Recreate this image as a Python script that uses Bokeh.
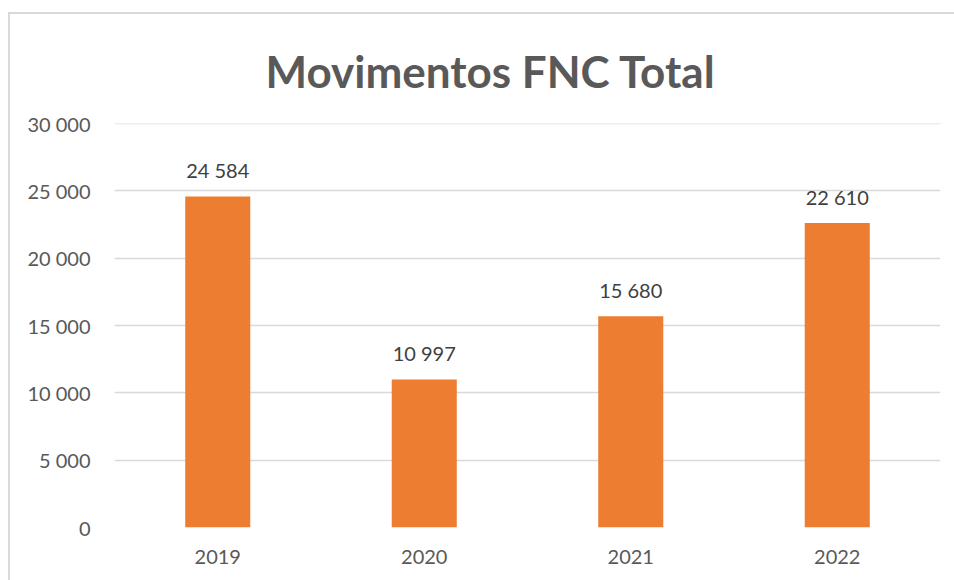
from bokeh.plotting import figure
from bokeh.models import ColumnDataSource, FixedTicker, Title, LabelSet
from bokeh.core.properties import value
from bokeh.embed import file_html
from bokeh.resources import INLINE

years = ["2019", "2020", "2021", "2022"]
values = [24584, 10997, 15680, 22610]
value_labels = ["24 584", "10 997", "15 680", "22 610"]
y_ticks = [0, 5000, 10000, 15000, 20000, 25000, 30000]
y_tick_labels = ["0", "5 000", "10 000", "15 000", "20 000", "25 000", "30 000"]
title_text = "Movimentos FNC Total"

FONT = "Lato"
src = ColumnDataSource(dict(x=years, top=values, lab=value_labels))

p = figure(x_range=years, y_range=(0, 30000.1), width=946, height=568,
           output_backend="svg", toolbar_location=None,
           min_border_left=104, min_border_right=16, min_border_top=109, min_border_bottom=55)
p.margin = (12, 0, 0, 8)
p.border_fill_color = None
p.styles = {"border-top": "2px solid #d9d9d9", "border-left": "2px solid #d9d9d9",
            "box-sizing": "border-box"}
p.title = None
t = Title(text=title_text, align="left", text_font=FONT,
          text_font_size="44px", text_font_style="bold", text_color="#595959",
          standoff=53, offset=151)
p.add_layout(t, "above")

p.vbar(x="x", top="top", width=0.315, source=src, color="#ED7D31", line_color=None)
p.add_layout(LabelSet(x="x", y="top", text="lab", source=src, text_align="center",
                      text_baseline="middle", y_offset=26, text_font_size=value("20px"),
                      text_font=value(FONT), text_color=value("#404040")))

p.outline_line_color = None
p.xgrid.grid_line_color = None
p.ygrid.grid_line_color = "#d9d9d9"
p.ygrid.grid_line_width = 1.5
p.yaxis.ticker = FixedTicker(ticks=y_ticks)
p.yaxis.major_label_overrides = {t_: l for t_, l in zip(y_ticks, y_tick_labels)}
for ax in (p.xaxis[0], p.yaxis[0]):
    ax.axis_line_color = None
    ax.major_tick_line_color = None
    ax.minor_tick_line_color = None
    ax.major_label_text_font = FONT
    ax.major_label_text_font_size = "20px"
    ax.major_label_text_color = "#595959"
p.yaxis.major_label_standoff = 18
p.xaxis.major_label_standoff = 16

open("out.html", "w").write(file_html(p, INLINE))
